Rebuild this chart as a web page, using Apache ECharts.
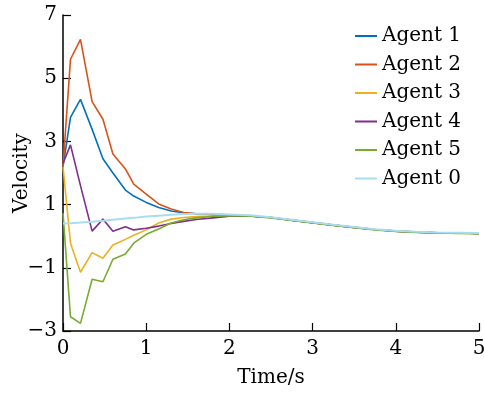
<!DOCTYPE html>
<html>
<head>
<meta charset="utf-8">
<script src="https://cdn.jsdelivr.net/npm/echarts@6/dist/echarts.min.js"></script>
<style>
  html, body { margin: 0; padding: 0; background: #fff; }
  #chart { width: 484px; height: 393px; }
</style>
</head>
<body>
<div id="chart"></div>
<script>
// time samples (s) - solver steps are uneven near the start
const timeS = [0, 0.09, 0.21, 0.35, 0.48, 0.6, 0.75, 0.85, 1.0, 1.15, 1.3, 1.45, 1.6, 1.8, 2.0,
  2.25, 2.5, 2.75, 3.0, 3.25, 3.5, 3.75, 4.0, 4.25, 4.5, 4.75, 5.0];

const agent1 = [2.2, 3.76, 4.33, 3.38, 2.45, 2.0, 1.46, 1.27, 1.07, 0.91, 0.80, 0.74, 0.71, 0.69, 0.67,
  0.64, 0.59, 0.51, 0.43, 0.35, 0.28, 0.21, 0.16, 0.13, 0.11, 0.10, 0.09];
const agent2 = [2.2, 5.6, 6.23, 4.26, 3.70, 2.6, 2.13, 1.65, 1.33, 1.02, 0.86, 0.75, 0.71, 0.69, 0.67,
  0.64, 0.59, 0.51, 0.43, 0.35, 0.28, 0.21, 0.16, 0.13, 0.11, 0.10, 0.09];
const agent3 = [2.2, -0.22, -1.14, -0.52, -0.70, -0.28, -0.10, 0.03, 0.20, 0.42, 0.54, 0.59, 0.62, 0.64, 0.66,
  0.64, 0.59, 0.51, 0.43, 0.35, 0.28, 0.21, 0.16, 0.13, 0.11, 0.10, 0.09];
const agent4 = [2.3, 2.89, 1.6, 0.16, 0.54, 0.16, 0.30, 0.20, 0.25, 0.32, 0.40, 0.47, 0.53, 0.58, 0.63,
  0.64, 0.59, 0.51, 0.43, 0.35, 0.28, 0.21, 0.16, 0.13, 0.11, 0.10, 0.09];
const agent5 = [0.73, -2.55, -2.76, -1.36, -1.44, -0.73, -0.56, -0.22, 0.06, 0.23, 0.42, 0.52, 0.58, 0.63, 0.65,
  0.63, 0.58, 0.50, 0.42, 0.34, 0.27, 0.20, 0.15, 0.12, 0.10, 0.09, 0.08];
const agent0 = [0.40, 0.41, 0.43, 0.46, 0.49, 0.52, 0.56, 0.58, 0.62, 0.65, 0.68, 0.70, 0.71, 0.71, 0.69,
  0.66, 0.60, 0.52, 0.44, 0.36, 0.29, 0.22, 0.17, 0.14, 0.12, 0.11, 0.10];

const seriesNames = ['Agent 1', 'Agent 2', 'Agent 3', 'Agent 4', 'Agent 5', 'Agent 0'];
const seriesValues = [agent1, agent2, agent3, agent4, agent5, agent0];
const seriesColors = ['#0072BD', '#D95319', '#EDB120', '#7E2F8E', '#77AC30', '#A8DDF0'];

const fontFamily = 'DejaVu Serif';

// pair time with value for a value-type x axis
function toPairs(values) {
  return values.map((v, i) => [timeS[i], v]);
}

// minus sign like the original (−1, −3)
function fmtTick(value) {
  return String(value).replace('-', '\u2212');
}

const axisCommon = {
  axisLine: { show: true, onZero: false, lineStyle: { color: '#000', width: 1.5 } },
  axisTick: { show: true, inside: true, length: 8, lineStyle: { color: '#000', width: 1.2 } },
  splitLine: { show: false },
  axisLabel: { color: '#000', fontFamily: fontFamily, fontSize: 20, formatter: fmtTick },
  nameTextStyle: { color: '#000', fontFamily: fontFamily, fontSize: 20 },
  nameMoveOverlap: false
};

const option = {
  animation: false,
  backgroundColor: '#fff',
  grid: { left: 63, right: 5, top: 15, bottom: 62, containLabel: false, outerBoundsMode: 'none' },
  legend: {
    orient: 'vertical',
    left: 355,
    top: 26,
    padding: 0,
    icon: 'rect',
    itemWidth: 22,
    itemHeight: 2,
    itemGap: 8.5,
    textStyle: { color: '#000', fontFamily: fontFamily, fontSize: 20, lineHeight: 20 },
    data: seriesNames
  },
  xAxis: Object.assign({}, axisCommon, {
    type: 'value',
    min: 0,
    max: 5,
    interval: 1,
    name: 'Time/s',
    nameLocation: 'middle',
    nameGap: 37,
    axisLabel: Object.assign({}, axisCommon.axisLabel, { margin: 8 })
  }),
  yAxis: Object.assign({}, axisCommon, {
    type: 'value',
    min: -3,
    max: 7,
    interval: 2,
    name: 'Velocity',
    nameLocation: 'middle',
    nameGap: 31,
    axisLabel: Object.assign({}, axisCommon.axisLabel, { margin: 6 })
  }),
  series: seriesNames.map((name, i) => ({
    name: name,
    type: 'line',
    showSymbol: false,
    symbol: 'none',
    data: toPairs(seriesValues[i]),
    color: seriesColors[i],
    lineStyle: { color: seriesColors[i], width: i === 5 ? 2 : 1.6 },
    z: 2 + i
  }))
};

const chart = echarts.init(document.getElementById('chart'));
chart.setOption(option);
</script>
</body>
</html>
